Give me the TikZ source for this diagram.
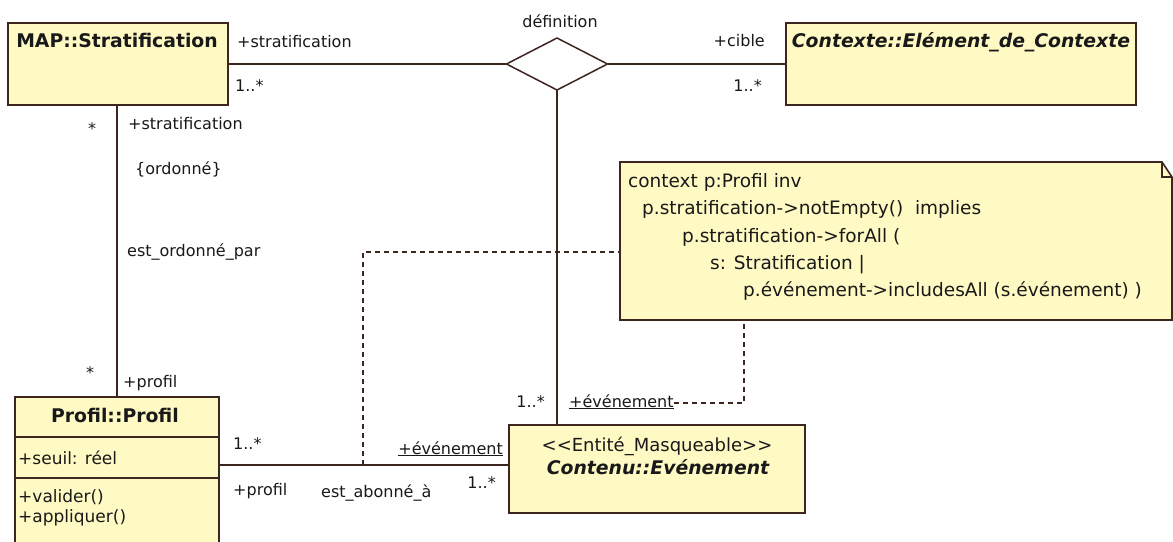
\documentclass[tikz,border=0pt]{standalone}
\usepackage{fontspec}
\setmainfont{DejaVu Sans}
\usetikzlibrary{shapes.geometric}
\definecolor{boxfill}{RGB}{255,250,196}
\definecolor{edgecol}{RGB}{62,38,32}
\definecolor{txt}{RGB}{25,25,25}
\begin{document}
\begin{tikzpicture}[x=1pt,y=-1pt,
  lbl/.style={inner sep=0pt, text height=12pt, text depth=4pt, text=txt, font=\fontsize{16}{19}\selectfont},
  notetxt/.style={lbl, anchor=west, font=\fontsize{18.5}{22}\selectfont},
  membtxt/.style={lbl, anchor=west, font=\fontsize{17}{20}\selectfont},
  ttl/.style={lbl, font=\fontsize{18.8}{22}\selectfont\bfseries},
  ttli/.style={lbl, font=\fontsize{18.8}{22}\selectfont\bfseries\itshape},
  classbox/.style={draw=edgecol, fill=boxfill, line width=1.7pt, inner sep=0pt, outer sep=0pt, anchor=north west},
  conn/.style={draw=edgecol, line width=1.6pt},
  dashconn/.style={draw=edgecol, line width=1.3pt, dash pattern=on 5pt off 4pt}]
\useasboundingbox[fill=white] (0,0) rectangle (1173,541);

% classes
\node[classbox, minimum width=220pt, minimum height=82pt] (map) at (8,23) {};
\node[classbox, minimum width=350pt, minimum height=82pt] (ctx) at (786,23) {};
\node[classbox, minimum width=296pt, minimum height=88pt] (ev) at (509,425) {};
\node[classbox, minimum width=204pt, minimum height=150pt] (prof) at (15,397) {};
\draw[edgecol, line width=1.7pt] (prof.west |- 0,437) -- (prof.east |- 0,437) (prof.west |- 0,478) -- (prof.east |- 0,478);

\node[ttl] (tmap) at (117,43) {MAP::Stratification};
\node[ttli] (tctx) at (961,43) {Contexte::Elément\_de\_Contexte};
\node[ttl] (tprof) at (115,418) {Profil::Profil};
\node[lbl, font=\fontsize{18}{21}\selectfont] (tster) at (657,447) {<{}<Entité\_Masqueable>{}>};
\node[ttli] (tev) at (658,470) {Contenu::Evénement};
\node[membtxt] (att) at (18,460) {+seuil: réel};
\node[membtxt] (op1) at (18,498) {+valider()};
\node[membtxt] (op2) at (18,518) {+appliquer()};

% n-ary association diamond
\node[diamond, draw=edgecol, fill=white, line width=1.5pt, outer sep=0pt, minimum width=101pt, minimum height=52pt, inner sep=0pt] (def) at (557,64) {};
\node[lbl] (tdef) at (560,23) {définition};

% note
\fill[boxfill] (620,162) -- (1162,162) -- (1172,177) -- (1172,320) -- (620,320) -- cycle;
\draw[edgecol, line width=1.6pt] (620,162) -- (1162,162) -- (1172,177) -- (1172,320) -- (620,320) -- cycle;
\draw[edgecol, line width=1.2pt] (1162,162) -- (1162,177) -- (1172,177);
\node[notetxt] (n1) at (628,183) {context p:Profil inv};
\node[notetxt] (n2) at (642,210) {p.stratification->notEmpty()\ \ implies};
\node[notetxt] (n3) at (682,238) {p.stratification->forAll (};
\node[notetxt] (n4) at (710,265) {s: Stratification |};
\node[notetxt] (n5) at (743,292) {p.événement->includesAll (s.événement) )};
\coordinate (nleft) at (620,252);
\coordinate (nbottom) at (744,320);

% connectors
\draw[conn] (map.east) -- (def.west);
\draw[conn] (def.east) -- (ctx.west);
\draw[conn] (def.south) -- (def.south |- ev.north);
\draw[conn] (map.south -| prof.north) -- (prof.north);
\coordinate (pe) at (219,465);
\coordinate (da) at (363,465);
\draw[conn] (pe) -- (pe -| ev.west);
\draw[dashconn] (da) |- (nleft);

% labels
\node[lbl, anchor=west] (l1) at (237,43) {+stratification};
\node[lbl, anchor=west] (l2) at (235,87) {1..*};
\node[lbl, anchor=east] (l3) at (765,42) {+cible};
\node[lbl, anchor=east] (l4) at (762,87) {1..*};
\node[lbl] (l5) at (92,130) {*};
\node[lbl, anchor=west] (l6) at (128,125) {+stratification};
\node[lbl, anchor=west] (l7) at (135,170) {\{ordonné\}};
\node[lbl, anchor=west] (l8) at (127,252) {est\_ordonné\_par};
\node[lbl] (l9) at (90,374) {*};
\node[lbl, anchor=west] (l10) at (123,383) {+profil};
\node[lbl, anchor=west] (l11) at (233,445) {1..*};
\node[lbl, anchor=west] (l12) at (233,491) {+profil};
\node[lbl, anchor=west] (l13) at (321,493) {est\_abonné\_à};
\node[lbl, anchor=east] (l14) at (496,484) {1..*};
\node[lbl, anchor=east] (l15) at (503,450) {\underline{+événement}};
\node[lbl, anchor=east] (l16) at (545,403) {1..*};
\node[lbl, anchor=west] (l17) at (569,403) {\underline{+événement}};
\draw[dashconn] (l17.east) -| (nbottom);
\end{tikzpicture}
\end{document}
